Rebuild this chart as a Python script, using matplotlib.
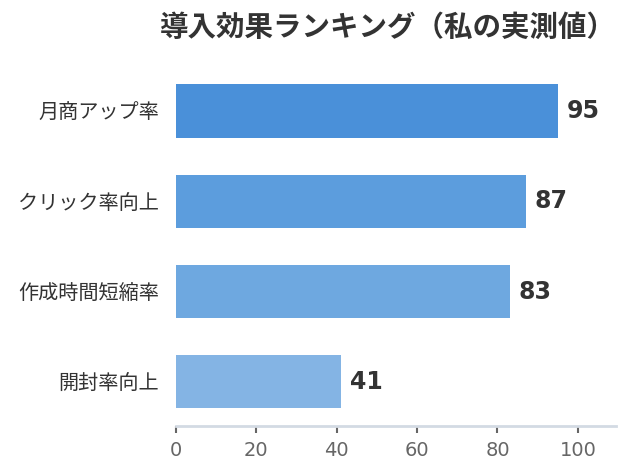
import matplotlib
matplotlib.use("Agg")
import matplotlib.pyplot as plt

plt.rcParams['font.family'] = ['Noto Sans CJK JP', 'DejaVu Sans']

# data (bottom to top)
categories = ["開封率向上", "作成時間短縮率", "クリック率向上", "月商アップ率"]
values = [41, 83, 87, 95]
colors = ["#84b4e4", "#6ea8e0", "#5c9ddd", "#4a90d9"]
xticks = [0, 20, 40, 60, 80, 100]

fig = plt.figure(figsize=(6.43, 4.76), dpi=100)
ax = fig.add_axes([176 / 643, (476 - 426) / 476, (616 - 176) / 643, (426 - 66) / 476])

pos = list(range(len(categories)))
bars = ax.barh(pos, values, height=0.59, color=colors)

for b, v in zip(bars, values):
    ax.text(b.get_width() + 2.2, b.get_y() + b.get_height() / 2, str(v),
            va='center', ha='left', fontsize=17, fontweight='bold',
            color='#333333', family=['DejaVu Sans'])

ax.set_xlim(0, 109.5)
ax.set_ylim(-0.49, 3.5)
ax.set_yticks(pos)
ax.set_yticklabels(categories, fontsize=14.5, color='#333333')
ax.set_xticks(xticks)
ax.set_xticklabels([str(t) for t in xticks], fontsize=14, color='#666666',
                   family=['DejaVu Sans'])
ax.tick_params(axis='y', length=0, pad=12)
ax.tick_params(axis='x', length=5, width=1.5, color='#666666', pad=6)

for s in ['top', 'right', 'left']:
    ax.spines[s].set_visible(False)
ax.spines['bottom'].set_color('#d3dae3')
ax.spines['bottom'].set_linewidth(2)

fig.text(388 / 643, 1 - 28 / 476, "導入効果ランキング（私の実測値）", ha='center', va='center',
         fontsize=20.5, fontweight='bold', color='#333333')

fig.savefig("out.png", dpi=100)
